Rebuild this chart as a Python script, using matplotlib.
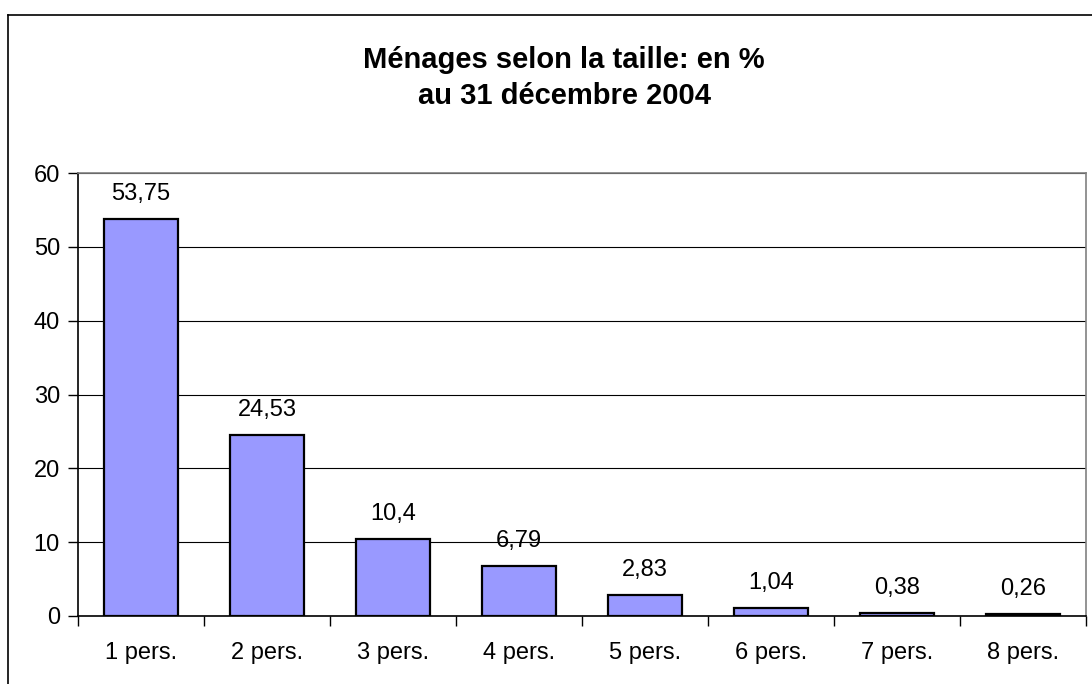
import matplotlib
matplotlib.use('Agg')
import matplotlib.pyplot as plt
import numpy as np
from matplotlib.lines import Line2D

plt.rcParams['font.family'] = ['Liberation Sans', 'DejaVu Sans']

categories = ['1 pers.', '2 pers.', '3 pers.', '4 pers.', '5 pers.', '6 pers.', '7 pers.', '8 pers.']
values = [53.75, 24.53, 10.4, 6.79, 2.83, 1.04, 0.38, 0.26]
value_labels = ['53,75', '24,53', '10,4', '6,79', '2,83', '1,04', '0,38', '0,26']

fig = plt.figure(figsize=(10.92, 6.84), dpi=100)
W, H = 1092, 684

# outer frame (left and top edges visible)
fig.add_artist(Line2D([8/W, 8/W], [-0.1, 1 - 15/H], transform=fig.transFigure, color='black', lw=1.2))
fig.add_artist(Line2D([8/W, 1.1], [1 - 15/H, 1 - 15/H], transform=fig.transFigure, color='black', lw=1.2))

ax = fig.add_axes([78/W, (H - 616)/H, (1086 - 78)/W, (616 - 173)/H])

x = np.arange(len(categories))
ax.bar(x, values, width=0.59, color='#9999FF', edgecolor='black', linewidth=1.6, zorder=3)

for xi, v, lab in zip(x, values, value_labels):
    ax.annotate(lab, (xi, v), xytext=(0, 10), textcoords='offset points',
                ha='center', va='bottom', fontsize=17)

ax.set_xlim(-0.5, len(categories) - 0.5)
ax.set_ylim(0, 60)
ax.set_yticks(range(0, 61, 10))
ax.yaxis.grid(True, color='black', lw=0.8, zorder=0)
ax.set_axisbelow(True)

ax.set_xticks(x)
ax.set_xticklabels(categories)
ax.set_xticks(np.arange(-0.5, len(categories)), minor=True)
ax.tick_params(axis='x', which='major', length=0, pad=19, labelsize=17)
ax.tick_params(axis='x', which='minor', length=7, color='black', width=1)
ax.tick_params(axis='y', length=7, width=1, pad=6, labelsize=17)

ax.spines['left'].set_color('black')
ax.spines['bottom'].set_color('black')
ax.spines['top'].set_color('#808080')
ax.spines['right'].set_color('#808080')
for s in ax.spines.values():
    s.set_linewidth(1.2)

fig.text(564/W, 1 - 78/H, 'Ménages selon la taille: en %\nau 31 décembre 2004',
         ha='center', va='center', fontsize=21, fontweight='bold', linespacing=1.38)

fig.savefig('out.png', dpi=100)
